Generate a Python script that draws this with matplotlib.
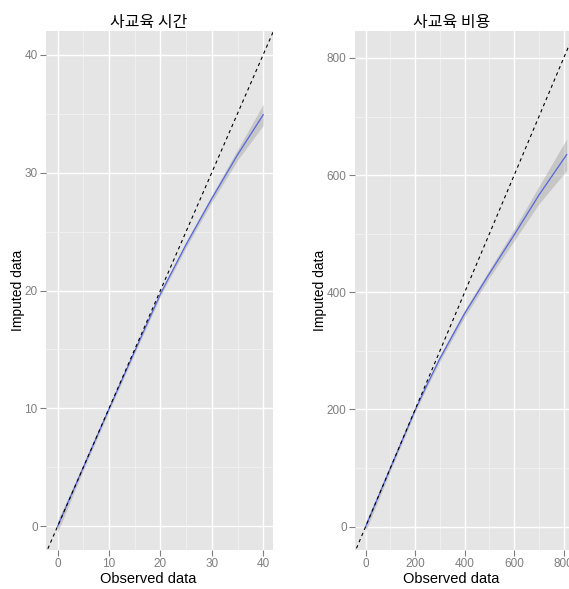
import matplotlib.pyplot as plt
from matplotlib.ticker import MultipleLocator

plt.rcParams['font.family'] = ['Liberation Sans', 'Noto Sans CJK KR', 'DejaVu Sans']

# 사교육 시간 (hours)
time_obs = [0, 5, 10, 15, 20, 25, 30, 35, 40]
time_imp = [0, 5.0, 9.95, 14.85, 19.7, 23.9, 27.8, 31.5, 34.9]
time_se = [0.5, 0.25, 0.2, 0.2, 0.2, 0.25, 0.3, 0.45, 0.9]

# 사교육 비용 (cost)
cost_obs = [0, 100, 200, 250, 300, 400, 500, 600, 700, 812]
cost_imp = [0, 100, 199, 244, 287, 364, 432, 498, 566, 635]
cost_se = [8, 5, 4, 4, 5, 6, 7, 10, 15, 27]

titles = ['사교육 시간', '사교육 비용']

PANEL = '#E5E5E5'
MINOR = '#F2F2F2'
TICK = '#7F7F7F'
SMOOTH = '#5566DD'

fig = plt.figure(figsize=(5.69, 5.89), dpi=100)
fig.patch.set_facecolor('white')

ax1 = fig.add_axes([46 / 569, 39 / 589, 227 / 569, 519 / 589])
ax2 = fig.add_axes([355 / 569, 39 / 589, 221.6 / 569, 519 / 589])


def style_panel(ax, major, minor, xlim, ylim):
    ax.set_facecolor(PANEL)
    for s in ax.spines.values():
        s.set_visible(False)
    ax.xaxis.set_major_locator(MultipleLocator(major))
    ax.yaxis.set_major_locator(MultipleLocator(major))
    ax.xaxis.set_minor_locator(MultipleLocator(minor))
    ax.yaxis.set_minor_locator(MultipleLocator(minor))
    ax.grid(which='major', color='white', linewidth=1.0)
    ax.grid(which='minor', color=MINOR, linewidth=0.6)
    ax.set_axisbelow(True)
    ax.tick_params(which='major', length=4, width=0.8, color=TICK,
                   labelcolor=TICK, labelsize=8.5, pad=2)
    ax.tick_params(which='minor', length=0)
    ax.set_xlim(*xlim)
    ax.set_ylim(*ylim)


def draw(ax, obs, imp, se, lim):
    lo = [m - s for m, s in zip(imp, se)]
    hi = [m + s for m, s in zip(imp, se)]
    ax.fill_between(obs, lo, hi, color='#999999', alpha=0.4, linewidth=0, zorder=2)
    ax.plot(obs, imp, color=SMOOTH, linewidth=0.9, zorder=3)
    ax.plot(lim, lim, color='black', linestyle=(0, (3, 3)), linewidth=0.8, zorder=4)


style_panel(ax1, 10, 5, (-2.25, 41.9), (-2, 42))
draw(ax1, time_obs, time_imp, time_se, [-5, 50])

style_panel(ax2, 200, 100, (-43, 852), (-40, 846))
draw(ax2, cost_obs, cost_imp, cost_se, [-100, 1000])

# titles and axis labels
fig.text(149 / 569, 1 - 22 / 589, titles[0], ha='center', va='center',
         fontsize=11.5, family=['Noto Sans CJK KR', 'DejaVu Sans'])
fig.text(452 / 569, 1 - 22 / 589, titles[1], ha='center', va='center',
         fontsize=11.5, family=['Noto Sans CJK KR', 'DejaVu Sans'])

for xc in (148, 451):
    fig.text(xc / 569, 1 - 579 / 589, 'Observed data', ha='center', va='center',
             fontsize=10.5)
for xc in (18, 320):
    fig.text(xc / 569, 1 - 290 / 589, 'Imputed data', ha='center', va='center',
             rotation=90, fontsize=10)

plt.savefig('out.png', dpi=100, facecolor='white')
